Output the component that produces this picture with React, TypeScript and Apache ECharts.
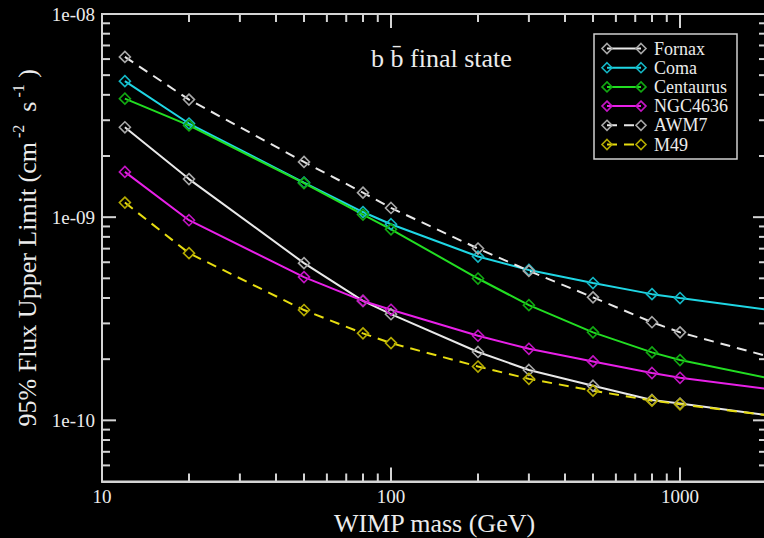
import React, { useEffect, useRef } from 'react';
import * as echarts from 'echarts';

// ---- data ----
const masses = [12, 20, 50, 80, 100, 200, 300, 500, 800, 1000, 2000];
const fornax = [2.77e-9, 1.54e-9, 5.94e-10, 3.87e-10, 3.33e-10, 2.17e-10, 1.77e-10, 1.48e-10, 1.26e-10, 1.21e-10, 1.06e-10];
const coma = [4.67e-9, 2.89e-9, 1.48e-9, 1.06e-9, 9.23e-10, 6.4e-10, 5.5e-10, 4.74e-10, 4.18e-10, 4.0e-10, 3.51e-10];
const centaurus = [3.83e-9, 2.83e-9, 1.47e-9, 1.03e-9, 8.71e-10, 4.99e-10, 3.69e-10, 2.71e-10, 2.16e-10, 1.98e-10, 1.62e-10];
const ngc4636 = [1.67e-9, 9.66e-10, 5.07e-10, 3.87e-10, 3.5e-10, 2.61e-10, 2.25e-10, 1.95e-10, 1.71e-10, 1.62e-10, 1.43e-10];
const awm7 = [6.15e-9, 3.79e-9, 1.87e-9, 1.32e-9, 1.11e-9, 7.01e-10, 5.44e-10, 4.03e-10, 3.04e-10, 2.71e-10, 2.07e-10];
const m49 = [1.18e-9, 6.65e-10, 3.49e-10, 2.68e-10, 2.4e-10, 1.84e-10, 1.6e-10, 1.4e-10, 1.25e-10, 1.2e-10, 1.06e-10];
// the last mass (2000) only continues the line to the frame edge, without a marker
const markedPoints = 10;

const seriesNames = ['Fornax', 'Coma', 'Centaurus', 'NGC4636', 'AWM7', 'M49'];
const seriesValues = [fornax, coma, centaurus, ngc4636, awm7, m49];
const lineColors = ['#e8e8e8', '#1fd6e4', '#22dd22', '#e820e8', '#e8e8e8', '#e6dc10'];
const markerColors = ['#a8a8a8', '#14b8c6', '#12a812', '#c414c4', '#a8a8a8', '#b4aa00'];
const dashed = [false, false, false, false, true, true];

const xMin = 10;
const xMax = 2000;
const yMin = 5e-11;
const yMax = 1e-8;
const xMajorTicks = [10, 100, 1000];
const xMinorTicks = [20, 30, 40, 50, 60, 70, 80, 90, 200, 300, 400, 500, 600, 700, 800, 900];
const yMajorTicks = [1e-10, 1e-9, 1e-8];
const yMinorTicks = [6e-11, 7e-11, 8e-11, 9e-11, 2e-10, 3e-10, 4e-10, 5e-10, 6e-10, 7e-10, 8e-10, 9e-10,
  2e-9, 3e-9, 4e-9, 5e-9, 6e-9, 7e-9, 8e-9, 9e-9];

const titleText = 'b b\u0304 final state';
const xName = 'WIMP mass (GeV)';

// ---- style ----
const FONT = 'Liberation Serif';
const AXIS = '#d4d4d4';
const TEXT = '#ececec';
const MAJ = 14;
const MIN = 8;

function fmtX(v: number) {
  const l = Math.log10(v);
  if (Math.abs(l - Math.round(l)) > 1e-6) return '';
  return String(Math.round(v));
}
function fmtY(v: number) {
  const l = Math.log10(v);
  const e = Math.round(l);
  if (Math.abs(l - e) > 1e-6) return '';
  return '1e' + (e < 0 ? '-' : '+') + String(Math.abs(e)).padStart(2, '0');
}

function diamond(cx: number, cy: number, r: number) {
  return [[cx, cy - r], [cx + r, cy], [cx, cy + r], [cx - r, cy]];
}

export default function App() {
  const ref = useRef<HTMLDivElement>(null);
  useEffect(() => {
    if (!ref.current) return;
    const chart = echarts.init(ref.current, null, { renderer: 'svg' });

    const lineSeries = seriesNames.map((name, k) => ({
      name,
      type: 'line',
      z: 3,
      data: masses.map((m, i) =>
        i < markedPoints ? [m, seriesValues[k][i]] : { value: [m, seriesValues[k][i]], symbol: 'none' }
      ),
      symbol: 'diamond',
      symbolSize: 11,
      showSymbol: true,
      itemStyle: { color: 'rgba(0,0,0,0)', borderColor: markerColors[k], borderWidth: 1.6 },
      lineStyle: { color: lineColors[k], width: 2, type: dashed[k] ? [10, 7] : 'solid' },
      emphasis: { disabled: true },
    }));

    const xTickData = [
      ...xMajorTicks.map((v) => [v, yMin, MAJ]),
      ...xMinorTicks.map((v) => [v, yMin, MIN]),
    ];
    const yTickData = [
      ...yMajorTicks.map((v) => [xMin, v, MAJ]),
      ...yMinorTicks.map((v) => [xMin, v, MIN]),
    ];

    const tickStyle = { stroke: AXIS, lineWidth: 2 };

    const xTicks = {
      type: 'custom',
      silent: true,
      z: 5,
      clip: false,
      encode: { x: 0, y: 1 },
      data: xTickData,
      renderItem: (_p: any, api: any) => {
        const v = api.value(0);
        const len = api.value(2);
        const b = api.coord([v, yMin]);
        const t = api.coord([v, yMax]);
        return {
          type: 'group',
          children: [
            { type: 'line', shape: { x1: b[0], y1: b[1], x2: b[0], y2: b[1] - len }, style: tickStyle },
            { type: 'line', shape: { x1: t[0], y1: t[1], x2: t[0], y2: t[1] + len }, style: tickStyle },
          ],
        };
      },
    };
    const yTicks = {
      type: 'custom',
      silent: true,
      z: 5,
      clip: false,
      encode: { x: 0, y: 1 },
      data: yTickData,
      renderItem: (_p: any, api: any) => {
        const v = api.value(1);
        const len = api.value(2);
        const l = api.coord([xMin, v]);
        const r = api.coord([xMax, v]);
        return {
          type: 'group',
          children: [
            { type: 'line', shape: { x1: l[0], y1: l[1], x2: l[0] + len, y2: l[1] }, style: tickStyle },
            { type: 'line', shape: { x1: r[0], y1: r[1], x2: r[0] - len, y2: r[1] }, style: tickStyle },
          ],
        };
      },
    };

    // legend drawn as graphic (diamond - line - diamond, like the original)
    const LX = 594, LY = 34, LW = 143, LH = 125;
    const legendChildren: any[] = [
      { type: 'rect', shape: { x: LX, y: LY, width: LW, height: LH }, style: { fill: '#000', stroke: '#d0d0d0', lineWidth: 1.5 } },
    ];
    seriesNames.forEach((name, k) => {
      const cy = 48.5 + k * 19.2;
      legendChildren.push({
        type: 'line',
        shape: { x1: 607, y1: cy, x2: 641, y2: cy },
        style: { stroke: lineColors[k], lineWidth: 2, lineDash: dashed[k] ? [10, 7] : null },
      });
      [607, 641].forEach((cx) =>
        legendChildren.push({
          type: 'polygon',
          shape: { points: diamond(cx, cy, 5) },
          style: { fill: 'rgba(0,0,0,0)', stroke: markerColors[k], lineWidth: 1.6 },
        })
      );
      legendChildren.push({
        type: 'text',
        x: 654,
        y: cy,
        style: { text: name, fill: TEXT, font: `18px "${FONT}"`, textVerticalAlign: 'middle', textAlign: 'left' },
      });
    });

    const option: any = {
      animation: false,
      backgroundColor: '#000',
      title: {
        text: titleText,
        left: 366,
        top: 40,
        textStyle: { fontFamily: FONT, fontSize: 26, fontWeight: 'normal', color: TEXT },
      },
      grid: {
        left: 102,
        top: 14,
        right: -3,
        bottom: 56.5,
        outerBoundsMode: 'none',
        containLabel: false,
        show: true,
        borderColor: AXIS,
        borderWidth: 2,
        backgroundColor: 'rgba(0,0,0,0)',
      },
      xAxis: {
        type: 'log',
        logBase: 10,
        min: xMin,
        max: xMax,
        name: xName,
        nameLocation: 'middle',
        nameGap: 13,
        nameTextStyle: { fontFamily: FONT, fontSize: 26, color: TEXT },
        axisLine: { show: true, lineStyle: { color: AXIS, width: 2 } },
        axisTick: { show: false },
        minorTick: { show: false },
        splitLine: { show: false },
        axisLabel: { formatter: fmtX, fontFamily: FONT, fontSize: 19, color: TEXT, margin: 5, showMinLabel: true, showMaxLabel: true },
      },
      yAxis: {
        type: 'log',
        logBase: 10,
        min: yMin,
        max: yMax,
        name: '{a|95% Flux Upper Limit (cm}{s| -2}{a|  s}{s| -1}{a| )}',
        nameLocation: 'middle',
        nameGap: 54,
        nameTextStyle: {
          color: TEXT,
          rich: {
            a: { fontFamily: FONT, fontSize: 26, color: TEXT, lineHeight: 30, verticalAlign: 'bottom' },
            s: { fontFamily: FONT, fontSize: 16, color: TEXT, lineHeight: 30, verticalAlign: 'top', padding: [0, 0, 0, 0] },
          },
        },
        axisLine: { show: true, lineStyle: { color: AXIS, width: 2 } },
        axisTick: { show: false },
        minorTick: { show: false },
        splitLine: { show: false },
        axisLabel: { formatter: fmtY, fontFamily: FONT, fontSize: 19, color: TEXT, margin: 7, showMinLabel: true, showMaxLabel: true },
      },
      graphic: [{ type: 'group', children: legendChildren, z: 10 }],
      series: [...lineSeries, xTicks, yTicks],
    };
    chart.setOption(option);
    return () => chart.dispose();
  }, []);

  return (
    <div
      ref={ref}
      style={{ position: 'fixed', left: 0, top: 0, width: 764, height: 538, background: '#000' }}
    />
  );
}
